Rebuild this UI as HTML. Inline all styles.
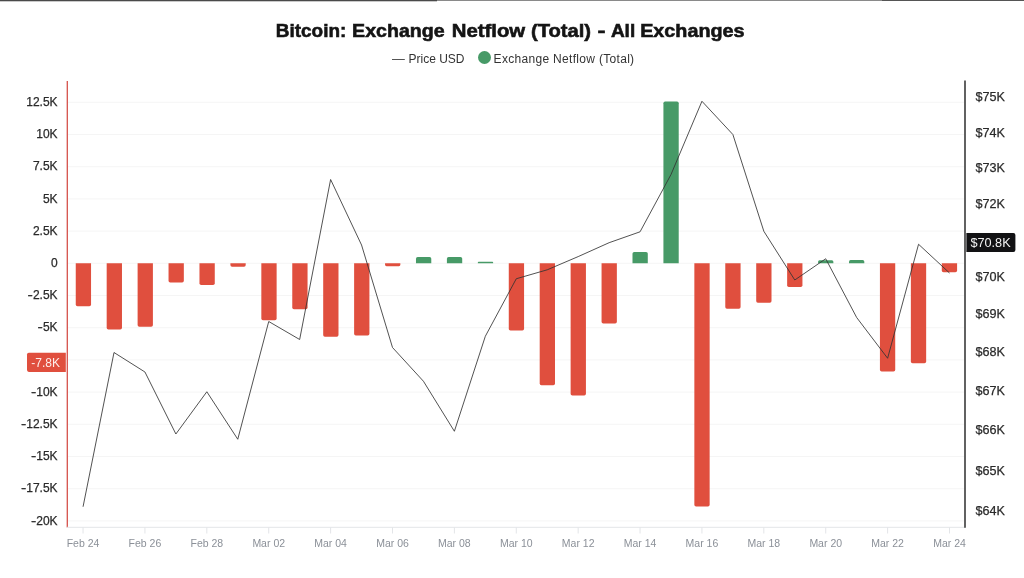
<!DOCTYPE html>
<html lang="en">
<head>
<meta charset="utf-8">
<title>Bitcoin: Exchange Netflow (Total) - All Exchanges</title>
<style>
html,body{margin:0;padding:0;background:#fff;}
body{width:1024px;height:578px;overflow:hidden;font-family:"Liberation Sans",sans-serif;}
svg{display:block;}
text{font-family:"Liberation Sans",sans-serif;}
.title{font-size:19px;font-weight:700;fill:#141414;stroke:#141414;stroke-width:0.6px;}
.lg{font-size:12px;fill:#333;}
.yl{font-size:12px;fill:#2a2a2a;stroke:#2a2a2a;stroke-width:0.25px;}
.yr{font-size:12.6px;}
.xl{font-size:10.5px;fill:#8b9098;}
</style>
</head>
<body>
<svg width="1024" height="578" viewBox="0 0 1024 578">
<rect width="1024" height="578" fill="#fff"/>
<line x1="68" x2="964" y1="102.30" y2="102.30" stroke="#f5f5f5" stroke-width="1"/>
<line x1="68" x2="964" y1="134.50" y2="134.50" stroke="#f5f5f5" stroke-width="1"/>
<line x1="68" x2="964" y1="166.70" y2="166.70" stroke="#f5f5f5" stroke-width="1"/>
<line x1="68" x2="964" y1="198.90" y2="198.90" stroke="#f5f5f5" stroke-width="1"/>
<line x1="68" x2="964" y1="231.10" y2="231.10" stroke="#f5f5f5" stroke-width="1"/>
<line x1="68" x2="964" y1="263.30" y2="263.30" stroke="#f5f5f5" stroke-width="1"/>
<line x1="68" x2="964" y1="295.50" y2="295.50" stroke="#f5f5f5" stroke-width="1"/>
<line x1="68" x2="964" y1="327.70" y2="327.70" stroke="#f5f5f5" stroke-width="1"/>
<line x1="68" x2="964" y1="359.90" y2="359.90" stroke="#f5f5f5" stroke-width="1"/>
<line x1="68" x2="964" y1="392.10" y2="392.10" stroke="#f5f5f5" stroke-width="1"/>
<line x1="68" x2="964" y1="424.30" y2="424.30" stroke="#f5f5f5" stroke-width="1"/>
<line x1="68" x2="964" y1="456.50" y2="456.50" stroke="#f5f5f5" stroke-width="1"/>
<line x1="68" x2="964" y1="488.70" y2="488.70" stroke="#f5f5f5" stroke-width="1"/>
<line x1="68" x2="964" y1="520.90" y2="520.90" stroke="#f5f5f5" stroke-width="1"/>
<path d="M75.75 263.3 H91.05 V304.55 Q91.05 306.25 89.35 306.25 H77.45 Q75.75 306.25 75.75 304.55 Z" fill="#e04f3e"/>
<path d="M106.68 263.3 H121.98 V327.80 Q121.98 329.50 120.28 329.50 H108.38 Q106.68 329.50 106.68 327.80 Z" fill="#e04f3e"/>
<path d="M137.61 263.3 H152.91 V325.05 Q152.91 326.75 151.21 326.75 H139.31 Q137.61 326.75 137.61 325.05 Z" fill="#e04f3e"/>
<path d="M168.54 263.3 H183.84 V280.80 Q183.84 282.50 182.14 282.50 H170.24 Q168.54 282.50 168.54 280.80 Z" fill="#e04f3e"/>
<path d="M199.47 263.3 H214.77 V283.30 Q214.77 285.00 213.07 285.00 H201.17 Q199.47 285.00 199.47 283.30 Z" fill="#e04f3e"/>
<path d="M230.40 263.3 H245.70 V265.05 Q245.70 266.75 244.00 266.75 H232.10 Q230.40 266.75 230.40 265.05 Z" fill="#e04f3e"/>
<path d="M261.33 263.3 H276.63 V318.55 Q276.63 320.25 274.93 320.25 H263.03 Q261.33 320.25 261.33 318.55 Z" fill="#e04f3e"/>
<path d="M292.26 263.3 H307.56 V307.55 Q307.56 309.25 305.86 309.25 H293.96 Q292.26 309.25 292.26 307.55 Z" fill="#e04f3e"/>
<path d="M323.19 263.3 H338.49 V335.05 Q338.49 336.75 336.79 336.75 H324.89 Q323.19 336.75 323.19 335.05 Z" fill="#e04f3e"/>
<path d="M354.12 263.3 H369.42 V333.80 Q369.42 335.50 367.72 335.50 H355.82 Q354.12 335.50 354.12 333.80 Z" fill="#e04f3e"/>
<path d="M385.05 263.3 H400.35 V264.77 Q400.35 266.25 398.88 266.25 H386.53 Q385.05 266.25 385.05 264.77 Z" fill="#e04f3e"/>
<path d="M415.98 263.3 H431.28 V258.70 Q431.28 257.00 429.58 257.00 H417.68 Q415.98 257.00 415.98 258.70 Z" fill="#479a67"/>
<path d="M446.91 263.3 H462.21 V258.70 Q462.21 257.00 460.51 257.00 H448.61 Q446.91 257.00 446.91 258.70 Z" fill="#479a67"/>
<path d="M477.84 263.3 H493.14 V262.52 Q493.14 261.75 492.37 261.75 H478.62 Q477.84 261.75 477.84 262.52 Z" fill="#479a67"/>
<path d="M508.77 263.3 H524.07 V328.80 Q524.07 330.50 522.37 330.50 H510.47 Q508.77 330.50 508.77 328.80 Z" fill="#e04f3e"/>
<path d="M539.70 263.3 H555.00 V383.55 Q555.00 385.25 553.30 385.25 H541.40 Q539.70 385.25 539.70 383.55 Z" fill="#e04f3e"/>
<path d="M570.63 263.3 H585.93 V393.80 Q585.93 395.50 584.23 395.50 H572.33 Q570.63 395.50 570.63 393.80 Z" fill="#e04f3e"/>
<path d="M601.56 263.3 H616.86 V321.80 Q616.86 323.50 615.16 323.50 H603.26 Q601.56 323.50 601.56 321.80 Z" fill="#e04f3e"/>
<path d="M632.49 263.3 H647.79 V253.70 Q647.79 252.00 646.09 252.00 H634.19 Q632.49 252.00 632.49 253.70 Z" fill="#479a67"/>
<path d="M663.42 263.3 H678.72 V103.20 Q678.72 101.50 677.02 101.50 H665.12 Q663.42 101.50 663.42 103.20 Z" fill="#479a67"/>
<path d="M694.35 263.3 H709.65 V504.80 Q709.65 506.50 707.95 506.50 H696.05 Q694.35 506.50 694.35 504.80 Z" fill="#e04f3e"/>
<path d="M725.28 263.3 H740.58 V307.05 Q740.58 308.75 738.88 308.75 H726.98 Q725.28 308.75 725.28 307.05 Z" fill="#e04f3e"/>
<path d="M756.21 263.3 H771.51 V301.05 Q771.51 302.75 769.81 302.75 H757.91 Q756.21 302.75 756.21 301.05 Z" fill="#e04f3e"/>
<path d="M787.14 263.3 H802.44 V285.30 Q802.44 287.00 800.74 287.00 H788.84 Q787.14 287.00 787.14 285.30 Z" fill="#e04f3e"/>
<path d="M818.07 263.3 H833.37 V261.77 Q833.37 260.25 831.84 260.25 H819.59 Q818.07 260.25 818.07 261.77 Z" fill="#479a67"/>
<path d="M849.00 263.3 H864.30 V261.65 Q864.30 260.00 862.65 260.00 H850.65 Q849.00 260.00 849.00 261.65 Z" fill="#479a67"/>
<path d="M879.93 263.3 H895.23 V369.80 Q895.23 371.50 893.53 371.50 H881.63 Q879.93 371.50 879.93 369.80 Z" fill="#e04f3e"/>
<path d="M910.86 263.3 H926.16 V361.55 Q926.16 363.25 924.46 363.25 H912.56 Q910.86 363.25 910.86 361.55 Z" fill="#e04f3e"/>
<path d="M941.79 263.3 H957.09 V270.55 Q957.09 272.25 955.39 272.25 H943.49 Q941.79 272.25 941.79 270.55 Z" fill="#e04f3e"/>
<polyline points="83.05,506.75 114.00,352.50 144.94,372.00 175.88,434.00 206.83,391.75 237.77,439.25 268.72,321.50 299.67,339.50 330.61,179.50 361.56,245.00 392.50,347.50 423.44,381.25 454.39,431.25 485.34,336.25 516.28,278.75 547.23,269.80 578.17,256.60 609.12,242.70 640.06,231.80 671.00,174.50 701.95,101.25 732.89,134.50 763.84,231.25 794.78,280.00 825.73,258.75 856.67,317.50 887.62,358.25 918.56,244.25 949.51,273.00" fill="none" stroke="#333" stroke-width="0.85" stroke-linejoin="miter"/>
<line x1="67.3" x2="67.3" y1="81" y2="527.5" stroke="#d5514a" stroke-width="1.3"/>
<line x1="67" x2="965" y1="527.3" y2="527.3" stroke="#e3e5e8" stroke-width="1"/>
<line x1="965" x2="965" y1="80.5" y2="527.8" stroke="#3a3a3a" stroke-width="1.6"/>
<line x1="83.05" x2="83.05" y1="527.3" y2="533.5" stroke="#e3e5e8" stroke-width="1"/>
<text x="83.05" y="546.6" text-anchor="middle" class="xl">Feb 24</text>
<line x1="144.94" x2="144.94" y1="527.3" y2="533.5" stroke="#e3e5e8" stroke-width="1"/>
<text x="144.94" y="546.6" text-anchor="middle" class="xl">Feb 26</text>
<line x1="206.83" x2="206.83" y1="527.3" y2="533.5" stroke="#e3e5e8" stroke-width="1"/>
<text x="206.83" y="546.6" text-anchor="middle" class="xl">Feb 28</text>
<line x1="268.72" x2="268.72" y1="527.3" y2="533.5" stroke="#e3e5e8" stroke-width="1"/>
<text x="268.72" y="546.6" text-anchor="middle" class="xl">Mar 02</text>
<line x1="330.61" x2="330.61" y1="527.3" y2="533.5" stroke="#e3e5e8" stroke-width="1"/>
<text x="330.61" y="546.6" text-anchor="middle" class="xl">Mar 04</text>
<line x1="392.50" x2="392.50" y1="527.3" y2="533.5" stroke="#e3e5e8" stroke-width="1"/>
<text x="392.50" y="546.6" text-anchor="middle" class="xl">Mar 06</text>
<line x1="454.39" x2="454.39" y1="527.3" y2="533.5" stroke="#e3e5e8" stroke-width="1"/>
<text x="454.39" y="546.6" text-anchor="middle" class="xl">Mar 08</text>
<line x1="516.28" x2="516.28" y1="527.3" y2="533.5" stroke="#e3e5e8" stroke-width="1"/>
<text x="516.28" y="546.6" text-anchor="middle" class="xl">Mar 10</text>
<line x1="578.17" x2="578.17" y1="527.3" y2="533.5" stroke="#e3e5e8" stroke-width="1"/>
<text x="578.17" y="546.6" text-anchor="middle" class="xl">Mar 12</text>
<line x1="640.06" x2="640.06" y1="527.3" y2="533.5" stroke="#e3e5e8" stroke-width="1"/>
<text x="640.06" y="546.6" text-anchor="middle" class="xl">Mar 14</text>
<line x1="701.95" x2="701.95" y1="527.3" y2="533.5" stroke="#e3e5e8" stroke-width="1"/>
<text x="701.95" y="546.6" text-anchor="middle" class="xl">Mar 16</text>
<line x1="763.84" x2="763.84" y1="527.3" y2="533.5" stroke="#e3e5e8" stroke-width="1"/>
<text x="763.84" y="546.6" text-anchor="middle" class="xl">Mar 18</text>
<line x1="825.73" x2="825.73" y1="527.3" y2="533.5" stroke="#e3e5e8" stroke-width="1"/>
<text x="825.73" y="546.6" text-anchor="middle" class="xl">Mar 20</text>
<line x1="887.62" x2="887.62" y1="527.3" y2="533.5" stroke="#e3e5e8" stroke-width="1"/>
<text x="887.62" y="546.6" text-anchor="middle" class="xl">Mar 22</text>
<line x1="949.51" x2="949.51" y1="527.3" y2="533.5" stroke="#e3e5e8" stroke-width="1"/>
<text x="949.51" y="546.6" text-anchor="middle" class="xl">Mar 24</text>
<text x="57.6" y="105.90" text-anchor="end" class="yl">12.5K</text>
<text x="57.6" y="138.10" text-anchor="end" class="yl">10K</text>
<text x="57.6" y="170.30" text-anchor="end" class="yl">7.5K</text>
<text x="57.6" y="202.50" text-anchor="end" class="yl">5K</text>
<text x="57.6" y="234.70" text-anchor="end" class="yl">2.5K</text>
<text x="57.6" y="266.90" text-anchor="end" class="yl">0</text>
<text x="57.6" y="299.10" text-anchor="end" class="yl"><tspan textLength="5.3" lengthAdjust="spacingAndGlyphs">-</tspan>2.5K</text>
<text x="57.6" y="331.30" text-anchor="end" class="yl"><tspan textLength="5.3" lengthAdjust="spacingAndGlyphs">-</tspan>5K</text>
<text x="57.6" y="395.70" text-anchor="end" class="yl"><tspan textLength="5.3" lengthAdjust="spacingAndGlyphs">-</tspan>10K</text>
<text x="57.6" y="427.90" text-anchor="end" class="yl"><tspan textLength="5.3" lengthAdjust="spacingAndGlyphs">-</tspan>12.5K</text>
<text x="57.6" y="460.10" text-anchor="end" class="yl"><tspan textLength="5.3" lengthAdjust="spacingAndGlyphs">-</tspan>15K</text>
<text x="57.6" y="492.30" text-anchor="end" class="yl"><tspan textLength="5.3" lengthAdjust="spacingAndGlyphs">-</tspan>17.5K</text>
<text x="57.6" y="524.50" text-anchor="end" class="yl"><tspan textLength="5.3" lengthAdjust="spacingAndGlyphs">-</tspan>20K</text>
<path d="M28.8 352.7 H65.8 V371.9 H28.8 Q27 371.9 27 370.1 V354.5 Q27 352.7 28.8 352.7 Z" fill="#e04f3e"/>
<text x="45.6" y="366.5" text-anchor="middle" class="yl" style="fill:#fdeeeb;stroke:none">-7.8K</text>
<text x="975.6" y="101.20" class="yl yr">$75K</text>
<text x="975.6" y="136.70" class="yl yr">$74K</text>
<text x="975.6" y="171.90" class="yl yr">$73K</text>
<text x="975.6" y="207.50" class="yl yr">$72K</text>
<text x="975.6" y="281.30" class="yl yr">$70K</text>
<text x="975.6" y="318.30" class="yl yr">$69K</text>
<text x="975.6" y="356.30" class="yl yr">$68K</text>
<text x="975.6" y="394.50" class="yl yr">$67K</text>
<text x="975.6" y="434.40" class="yl yr">$66K</text>
<text x="975.6" y="474.60" class="yl yr">$65K</text>
<text x="975.6" y="515.00" class="yl yr">$64K</text>
<path d="M966.4 233 H1013.4 Q1015.4 233 1015.4 235 V250.1 Q1015.4 252.1 1013.4 252.1 H966.4 Z" fill="#121214"/>
<text x="990.5" y="247" text-anchor="middle" class="yl" style="fill:#f4f4f4;stroke:none;font-size:12.7px">$70.8K</text>
<text y="37.1" class="title"><tspan x="275.80" textLength="70.50" lengthAdjust="spacingAndGlyphs">Bitcoin:</tspan> <tspan x="352.10" textLength="92.60" lengthAdjust="spacingAndGlyphs">Exchange</tspan> <tspan x="451.70" textLength="73.50" lengthAdjust="spacingAndGlyphs">Netflow</tspan> <tspan x="531.00" textLength="60.10" lengthAdjust="spacingAndGlyphs">(Total)</tspan> <tspan x="597.4" dy="-0.6" textLength="8.0" lengthAdjust="spacingAndGlyphs">-</tspan> <tspan x="610.90" dy="0.6" textLength="24.30" lengthAdjust="spacingAndGlyphs">All</tspan> <tspan x="640.20" textLength="104.40" lengthAdjust="spacingAndGlyphs">Exchanges</tspan></text>
<line x1="392" x2="404.8" y1="59.5" y2="59.5" stroke="#555" stroke-width="1"/>
<text x="408.5" y="62.5" class="lg">Price USD</text>
<circle cx="484.5" cy="57.5" r="6.5" fill="#479a67"/>
<text x="493.6" y="62.5" class="lg" textLength="140.5" lengthAdjust="spacing">Exchange Netflow (Total)</text>
<rect x="0" y="0" width="1024" height="1" fill="#8a8a8a"/>
<rect x="0" y="0" width="437" height="1" fill="#4a4a4a"/>
<rect x="0" y="1" width="437" height="1" fill="#c9c9c9"/>
<rect x="882" y="0" width="142" height="1" fill="#555"/>
</svg>
</body>
</html>
